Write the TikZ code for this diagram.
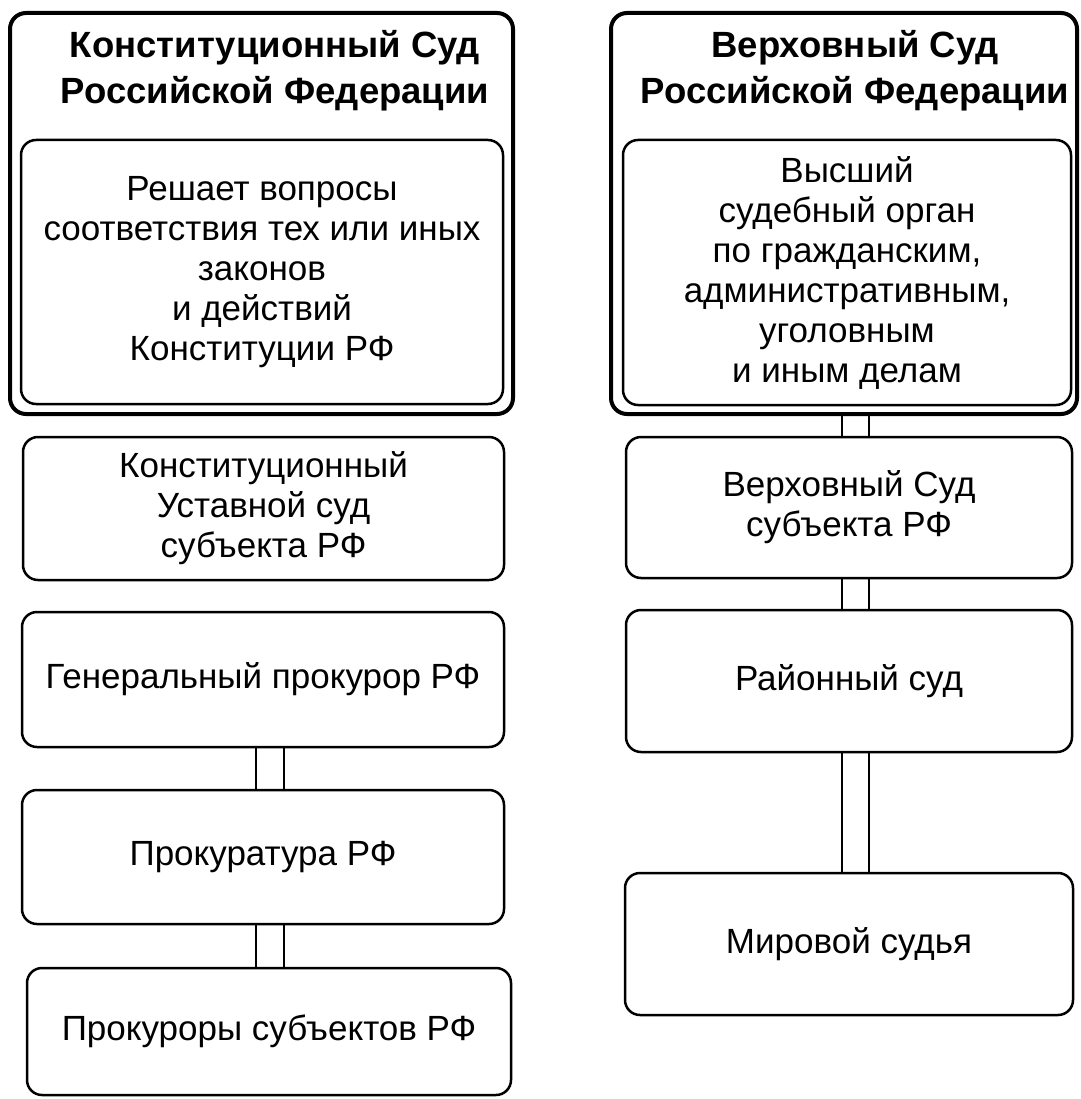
\documentclass[tikz,border=0pt]{standalone}
\usepackage{fontspec}
\setmainfont{Liberation Sans}
\begin{document}
\begin{tikzpicture}[x=1pt, y=-1pt,
  outerbox/.style={draw, line width=4pt, rounded corners=16pt, minimum width=#1},
  box/.style={draw, line width=2.5pt, rounded corners=15pt, align=center,
    font=\fontsize{35}{40}\selectfont, inner sep=0pt},
  heading/.style={align=center, font=\fontsize{36.5}{46}\selectfont\bfseries},
  link/.style={line width=2.5pt}]
\useasboundingbox (0,0) rectangle (1080,1099);

% left column
\node[outerbox=503pt, minimum height=401pt] (ksrf) at (261.5,213.5) {};
\node[heading] (kstitle) at (275,71) {Конституционный Суд\\Российской Федерации};
\node[box, minimum width=482pt, minimum height=264pt] (ksrole) at (262,272)
  {Решает вопросы\\соответствия тех или иных\\законов\\и действий\\Конституции РФ};
\node[box, minimum width=481pt, minimum height=143pt] (kssub) at (263.5,508.5)
  {Конституционный\\Уставной суд\\субъекта РФ};
\node[box, minimum width=482pt, minimum height=135pt] (genpr) at (263,679.5)
  {Генеральный прокурор РФ};
\node[box, minimum width=482pt, minimum height=134pt] (prok) at (263,857)
  {Прокуратура РФ};
\node[box, minimum width=484pt, minimum height=127pt] (prsub) at (269,1031.5)
  {Прокуроры субъектов РФ};

% right column
\node[outerbox=466pt, minimum height=401pt] (vsrf) at (844,213.5) {};
\node[heading] (vstitle) at (855,71) {Верховный Суд\\Российской Федерации};
\node[box, minimum width=448pt, minimum height=265pt] (vsrole) at (847,272.5)
  {Высший\\судебный орган\\по гражданским,\\административным,\\уголовным\\и иным делам};
\node[box, minimum width=446pt, minimum height=141pt] (vssub) at (849,507.5)
  {Верховный Суд\\субъекта РФ};
\node[box, minimum width=446pt, minimum height=142pt] (raisud) at (849,681)
  {Районный суд};
\node[box, minimum width=448pt, minimum height=142pt] (mirsud) at (849,944)
  {Мировой судья};

% double links
\coordinate (la) at (256,0);
\coordinate (lb) at (284,0);
\coordinate (ra) at (842,0);
\coordinate (rb) at (869,0);
\foreach \a/\b in {genpr/prok, prok/prsub} {
  \draw[link] (\a.south -| la) -- (\b.north -| la);
  \draw[link] (\a.south -| lb) -- (\b.north -| lb);
}
\foreach \a/\b in {vsrf/vssub, vssub/raisud, raisud/mirsud} {
  \draw[link] (\a.south -| ra) -- (\b.north -| ra);
  \draw[link] (\a.south -| rb) -- (\b.north -| rb);
}
\end{tikzpicture}
\end{document}
